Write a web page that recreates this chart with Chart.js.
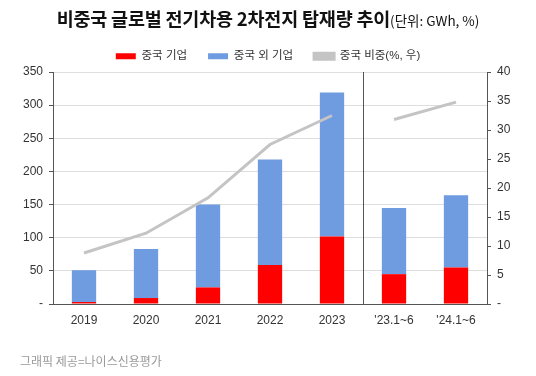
<!DOCTYPE html>
<html>
<head>
<meta charset="utf-8">
<script src="https://cdn.jsdelivr.net/npm/chart.js@4.4.1/dist/chart.umd.min.js"></script>
<style>
  body { margin: 0; background: #fff; }
  #wrap { position: relative; width: 536px; height: 376px; }
  #title {
    position: absolute; left: 0; top: 5px; width: 536px; text-align: center;
    font-family: 'Noto Sans CJK KR', sans-serif; color: #111; white-space: nowrap;
  }
  #title b { font-size: 18.5px; font-weight: 700; letter-spacing: -0.2px; }
  #title span { font-size: 13.5px; }
  #source {
    position: absolute; left: 20px; top: 352px;
    font-family: 'Noto Sans CJK KR', sans-serif; font-size: 12px; color: #999;
  }
  canvas { position: absolute; left: 0; top: 0; }
</style>
</head>
<body>
<div id="wrap">
  <canvas id="chart" width="536" height="376"></canvas>
  <div id="title"><b>비중국 글로벌 전기차용 2차전지 탑재량 추이</b><span>(단위: GWh, %)</span></div>
  <div id="source">그래픽 제공=나이스신용평가</div>
</div>
<script>
const labels = ['2019', '2020', '2021', '2022', '2023', "'23.1~6", "'24.1~6"];
const chinaVals = [3, 9, 25, 59, 102, 45, 55];          // 중국 기업 (GWh)
const nonChinaVals = [48, 74, 125, 159, 217, 100, 109]; // 중국 외 기업 (GWh)
const chinaShare = [8.8, 12.2, 18.3, 27.5, 32.5, 31.8, 34.8]; // 중국 비중 (%)

const FONT = "'Liberation Sans', 'Noto Sans CJK KR', sans-serif";
const AXIS = '#555';

// 2023 과 '23.1~6 사이 구분선
const separator = {
  id: 'separator',
  beforeDatasetsDraw(chart) {
    const { ctx, chartArea, scales } = chart;
    const x = Math.round((scales.x.getPixelForValue(4) + scales.x.getPixelForValue(5)) / 2) + 0.5;
    ctx.save();
    ctx.strokeStyle = AXIS;
    ctx.lineWidth = 1;
    ctx.beginPath();
    ctx.moveTo(x, chartArea.top);
    ctx.lineTo(x, chartArea.bottom);
    ctx.stroke();
    ctx.restore();
  }
};

new Chart(document.getElementById('chart'), {
  type: 'bar',
  data: {
    labels: labels,
    datasets: [
      {
        label: '중국 기업',
        data: chinaVals,
        backgroundColor: '#ff0000',
        yAxisID: 'y',
        order: 1,
        barPercentage: 0.8,
        categoryPercentage: 0.49
      },
      {
        label: '중국 외 기업',
        data: nonChinaVals,
        backgroundColor: '#6f9be0',
        yAxisID: 'y',
        order: 1,
        barPercentage: 0.8,
        categoryPercentage: 0.49
      },
      {
        type: 'line',
        label: '중국 비중(%, 우)',
        data: chinaShare,
        borderColor: '#c4c4c4',
        backgroundColor: '#c4c4c4',
        borderWidth: 3,
        pointRadius: 0,
        yAxisID: 'y1',
        order: 0,
        segment: {
          borderColor: c => c.p0DataIndex === 4 ? 'rgba(0,0,0,0)' : '#c4c4c4'
        }
      }
    ]
  },
  options: {
    responsive: false,
    animation: false,
    layout: { padding: { top: 25, left: 0, right: 0, bottom: 42 } },
    plugins: {
      tooltip: { enabled: false },
      legend: {
        position: 'top',
        labels: {
          boxWidth: 20,
          boxHeight: 6,
          padding: 21,
          color: '#333',
          font: { family: FONT, size: 11.5 },
          sort: (a, b) => a.datasetIndex - b.datasetIndex
        }
      }
    },
    scales: {
      x: {
        stacked: true,
        grid: { display: false },
        border: { display: true, color: AXIS },
        ticks: { color: '#333', font: { family: FONT, size: 12 }, padding: 1 },
        afterFit: s => { s.height = 30; }
      },
      y: {
        stacked: true,
        position: 'left',
        min: 0, max: 350,
        ticks: {
          stepSize: 50,
          color: '#333',
          padding: 6,
          font: { family: FONT, size: 12 },
          callback: v => v === 0 ? '-' : v
        },
        grid: { color: '#dedede', tickColor: AXIS, tickLength: 4 },
        border: { display: true, color: AXIS },
        // 플롯 영역 위치 고정 (왼쪽 폭, 위쪽 여백)
        afterFit: s => { s.width = 53; s.paddingTop = 72; }
      },
      y1: {
        position: 'right',
        min: 0, max: 40,
        ticks: {
          stepSize: 5,
          color: '#333',
          padding: 6,
          font: { family: FONT, size: 12 },
          callback: v => v === 0 ? '-' : v
        },
        grid: { drawOnChartArea: false, tickColor: AXIS, tickLength: 4 },
        border: { display: true, color: AXIS },
        afterFit: s => { s.width = 49; }
      }
    }
  },
  plugins: [separator]
});
</script>
</body>
</html>
